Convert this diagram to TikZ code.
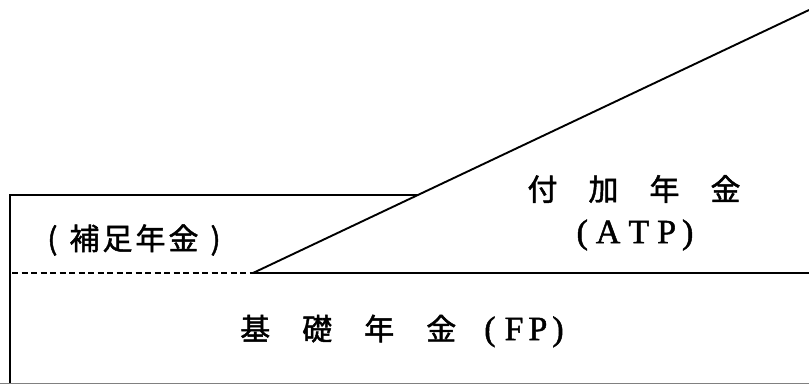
\documentclass[tikz,border=0pt]{standalone}
\usepackage{fontspec}
\setmainfont{Liberation Serif}
\newfontfamily\jpfont{Noto Sans CJK JP}[FakeBold=1.6]
\newfontfamily\latfont{Liberation Serif}[FakeBold=1.4]
\usetikzlibrary{calc}
\begin{document}
\begin{tikzpicture}[x=1pt, y=-1pt,
        rule/.style={line width=1.9pt},
        guide/.style={line width=1.7pt, dash pattern=on 6pt off 3.5pt},
        lbl/.style={inner sep=0pt, font=\fontsize{30}{30}\selectfont\jpfont}]
        \useasboundingbox (0, 0) rectangle (809, 385);
        \coordinate (tl) at (10, 195);
        \coordinate (bl) at (10, 383);
        \coordinate (ml) at (12, 273);
        \coordinate (knee) at (253, 273);
        \coordinate (mr) at (809, 273);
        \coordinate (tr) at (809, 10);
        \coordinate (te) at ($(knee)!0.2966!(tr)$);
        \coordinate (b0) at (0, 383);
        \coordinate (br) at (809, 383);
        \draw[rule] (bl) -- (tl) -- (te);
        \draw[guide] (ml) -- (knee);
        \draw[rule] (knee) -- (mr);
        \draw[rule] (knee) -- (tr);
        \draw[gray, line width=1pt] (b0) -- (br);
        \node[lbl] (supp) at (134, 240) {(\hspace{12pt}補\hspace{3pt}足\hspace{3pt}年\hspace{3pt}金\hspace{12pt})};
        \node[lbl] (addl) at (634, 189) {付\hspace{31pt}加\hspace{31pt}年\hspace{31pt}金};
        \node[lbl, font=\fontsize{34}{34}\selectfont\latfont] (atp) at (635, 235) {(\hspace{8pt}A\hspace{8pt}T\hspace{8pt}P\hspace{6pt})};
        \node[lbl] (base) at (402, 331) {基\hspace{32pt}礎\hspace{32pt}年\hspace{32pt}金\hspace{28pt}{\latfont\fontsize{34}{34}\selectfont(\hspace{9pt}F\hspace{5pt}P\hspace{5pt})}};
\end{tikzpicture}
\end{document}
